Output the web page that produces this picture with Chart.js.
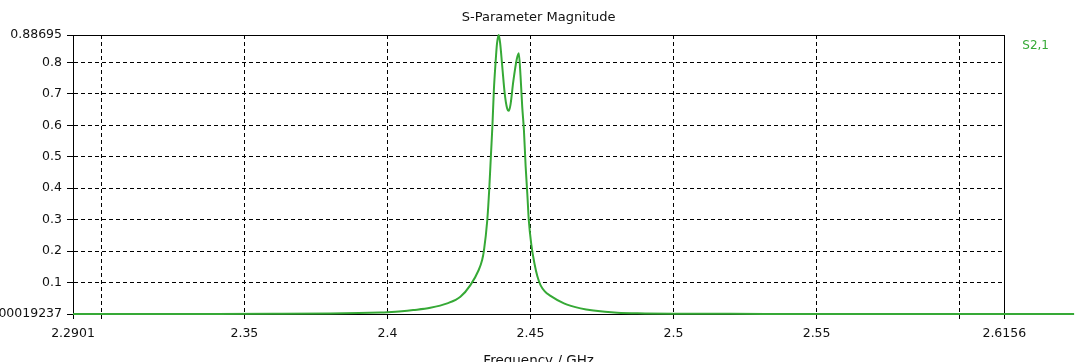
<!DOCTYPE html>
<html>
<head>
<meta charset="utf-8">
<script src="https://cdn.jsdelivr.net/npm/chart.js@4"></script>
<style>
  html, body { margin: 0; padding: 0; background: #fff; }
  #wrap { width: 1084px; height: 362px; }
</style>
</head>
<body>
<div id="wrap"><canvas id="sparamChart"></canvas></div>
<script>
// frequency points (GHz) and |S21|
const freqGHz = [
  2.2901, 2.32, 2.34, 2.36, 2.38, 2.39, 2.3976, 2.4, 2.405, 2.409,
  2.415, 2.4209, 2.4255, 2.429, 2.4319, 2.4331, 2.4337, 2.4349, 2.4356,
  2.4362, 2.4367, 2.4372, 2.4378, 2.4383, 2.4389, 2.4394, 2.4401, 2.441, 2.4418,
  2.4424, 2.443, 2.444, 2.4452, 2.4459, 2.4465, 2.4471, 2.4477, 2.4483, 2.4489,
  2.4494, 2.4503, 2.4514, 2.4524, 2.4535, 2.455, 2.457, 2.4617, 2.4675, 2.472,
  2.4803, 2.49, 2.5, 2.52, 2.55, 2.58, 2.6, 2.64
];
const s21Mag = [
  0.0002, 0.0003, 0.0005, 0.0009, 0.0018, 0.003, 0.005, 0.006, 0.009, 0.0127,
  0.02, 0.034, 0.055, 0.092, 0.14, 0.172, 0.2, 0.299, 0.40,
  0.51, 0.60, 0.712, 0.80, 0.86, 0.88695, 0.86, 0.79, 0.70, 0.655,
  0.646, 0.665, 0.74, 0.81, 0.829, 0.76, 0.66, 0.585, 0.47, 0.38,
  0.299, 0.22, 0.16, 0.12, 0.092, 0.072, 0.058, 0.034, 0.018, 0.011,
  0.004, 0.002, 0.001, 0.0006, 0.0004, 0.0003, 0.0002, 0.0002
];

const xTicks = [2.2901, 2.3, 2.35, 2.4, 2.45, 2.5, 2.55, 2.6, 2.6156];
const xTickLabels = ['2.2901', '', '2.35', '2.4', '2.45', '2.5', '2.55', '', '2.6156'];
const yTicks = [0.00019237, 0.1, 0.2, 0.3, 0.4, 0.5, 0.6, 0.7, 0.8, 0.88695];
const yTickLabels = ['0.00019237', '0.1', '0.2', '0.3', '0.4', '0.5', '0.6', '0.7', '0.8', '0.88695'];

const seriesName = 'S2,1';
const lineColor = '#36a936';

Chart.defaults.font.family = '"DejaVu Sans", Verdana, sans-serif';
Chart.defaults.font.size = 12.5;
Chart.defaults.color = '#111';

// solid frame round the plot area (top and right sides too)
const plotFrame = {
  id: 'plotFrame',
  beforeDatasetsDraw(chart) {
    const { ctx, chartArea: a } = chart;
    ctx.save();
    ctx.strokeStyle = '#000';
    ctx.lineWidth = 1;
    ctx.strokeRect(Math.round(a.left) + 0.5, Math.round(a.top) + 0.5,
      Math.round(a.right - a.left), Math.round(a.bottom - a.top));
    ctx.restore();
  }
};

const ctx = document.getElementById('sparamChart').getContext('2d');

const sparamChart = new Chart(ctx, {
  type: 'line',
  data: {
    datasets: [{
      label: seriesName,
      data: freqGHz.map((f, i) => ({ x: f, y: s21Mag[i] })),
      borderColor: lineColor,
      backgroundColor: lineColor,
      borderWidth: 2,
      pointRadius: 0,
      cubicInterpolationMode: 'monotone',
      fill: false,
      clip: { left: 0, top: 5, right: 75, bottom: 5 }
    }]
  },
  options: {
    responsive: true,
    maintainAspectRatio: false,
    animation: false,
    layout: { padding: { left: 0, right: 25, top: 0, bottom: 0 } },
    plugins: {
      title: {
        display: true,
        text: 'S-Parameter Magnitude',
        fullSize: false,
        color: '#111',
        font: { size: 13, weight: 'normal' },
        padding: { top: 9.5, bottom: 9.9 }
      },
      legend: {
        display: true,
        position: 'right',
        align: 'start',
        fullSize: false,
        labels: {
          boxWidth: 7,
          padding: 5,
          color: lineColor,
          font: { size: 12 },
          generateLabels: (chart) => chart.data.datasets.map((ds, i) => ({
            text: ds.label,
            fillStyle: 'rgba(0,0,0,0)',
            strokeStyle: 'rgba(0,0,0,0)',
            lineWidth: 0,
            fontColor: lineColor,
            datasetIndex: i
          }))
        }
      },
      tooltip: { enabled: false }
    },
    scales: {
      x: {
        type: 'linear',
        min: 2.2901,
        max: 2.6156,
        afterBuildTicks: (scale) => { scale.ticks = xTicks.map(v => ({ value: v })); },
        afterFit: (scale) => { scale.height = 48; },
        ticks: {
          autoSkip: false,
          maxRotation: 0,
          padding: 7,
          color: '#111',
          callback: (val, i) => xTickLabels[i]
        },
        grid: {
          color: '#000',
          lineWidth: 1,
          tickLength: 5,
          tickColor: '#000'
        },
        border: { display: true, color: '#000', width: 1, dash: [4, 3] },
        title: {
          display: true,
          text: 'Frequency / GHz',
          color: '#111',
          font: { size: 13.5 },
          padding: { top: 0, bottom: -8 }
        }
      },
      y: {
        type: 'linear',
        min: 0.00019237,
        max: 0.88695,
        afterBuildTicks: (scale) => { scale.ticks = yTicks.map(v => ({ value: v })); },
        afterFit: (scale) => { scale.width = 73; },
        ticks: {
          autoSkip: false,
          padding: 5,
          color: '#111',
          callback: (val, i) => yTickLabels[i]
        },
        grid: {
          color: '#000',
          lineWidth: 1,
          tickLength: 6,
          tickColor: '#000'
        },
        border: { display: true, color: '#000', width: 1, dash: [4, 3] }
      }
    }
  },
  plugins: [plotFrame]
});
</script>
</body>
</html>
